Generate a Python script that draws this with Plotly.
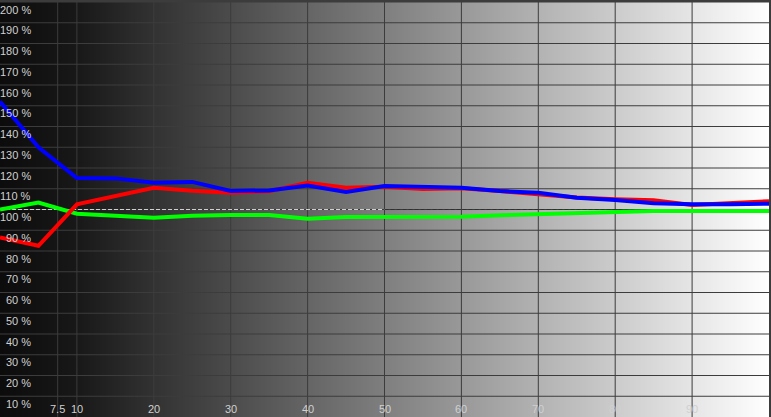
import numpy as np
import plotly.graph_objects as go

# RGB balance readings (%), grey level 0..100 in steps of 5
levels = [0, 5, 10, 15, 20, 25, 30, 35, 40, 45, 50, 55, 60, 65, 70, 75, 80, 85, 90, 95, 100]
red = [86.5, 82.5, 102.5, 106.5, 110.5, 109.0, 108.1, 108.8, 112.9, 110.5, 111.0,
       109.9, 110.2, 108.9, 107.5, 105.8, 105.0, 104.4, 102.2, 103.0, 104.0]
green = [100.0, 103.3, 98.0, 96.8, 96.0, 97.0, 97.4, 97.3, 95.6, 96.4, 96.5,
         96.5, 96.5, 97.2, 97.7, 98.0, 98.5, 99.3, 99.3, 99.3, 99.3]
blue = [152.0, 130.0, 115.2, 115.0, 112.9, 113.3, 108.9, 109.2, 111.6, 108.5, 111.3,
        110.9, 110.5, 108.9, 108.1, 105.7, 104.6, 103.0, 102.5, 102.5, 102.8]

x_ticks = [7.5, 10, 20, 30, 40, 50, 60, 70, 80, 90]
x_tick_text = ["7.5", "10", "20", "30", "40", "50", "60", "70", "80", "90"]
y_ticks = list(range(10, 201, 10))
y_tick_text = [f"{v} %" for v in y_ticks]
REF = 100

W, H = 771, 417
GRID = "#3c3c3c"
LABEL = "#d0d0d0"
X_MAX, Y_MAX = 100, 200

traces = []

# grey ramp behind everything (one pixel-ish column per step)
n_cols = 386
dx = X_MAX / n_cols
centers = dx / 2 + dx * np.arange(n_cols)
traces.append(go.Heatmap(
    z=[centers], x0=dx / 2, dx=dx, y0=Y_MAX / 2, dy=Y_MAX,
    zmin=0, zmax=X_MAX, zsmooth=False, showscale=False, hoverinfo="skip",
    colorscale=[[0, "rgb(12,12,12)"], [0.1, "rgb(24,24,24)"], [1, "rgb(255,255,255)"]],
))

# grid drawn as a trace so it sits above the ramp but under the curves
gx, gy = [], []
for v in x_ticks:
    gx += [v, v, None]
    gy += [0, Y_MAX, None]
for v in y_ticks:
    gx += [0, X_MAX, None]
    gy += [v, v, None]
traces.append(go.Scatter(x=gx, y=gy, mode="lines", line=dict(color=GRID, width=1),
                         hoverinfo="skip", showlegend=False))

# 100 % reference, light on the dark half, dark on the light half
traces.append(go.Scatter(x=[0, 50], y=[REF, REF], mode="lines",
                         line=dict(color="#d0d0d0", width=1, dash="4px,2px"),
                         hoverinfo="skip", showlegend=False))
traces.append(go.Scatter(x=[50, 100], y=[REF, REF], mode="lines",
                         line=dict(color="#303030", width=1, dash="4px,2px"),
                         hoverinfo="skip", showlegend=False))

for vals, col in [(green, "#00ff00"), (red, "#ff0000"), (blue, "#0000ff")]:
    traces.append(go.Scatter(x=levels, y=vals, mode="lines",
                             line=dict(color=col, width=4),
                             showlegend=False))

fig = go.Figure(data=traces)

annotations = []
for v, t in zip(y_ticks, y_tick_text):
    annotations.append(dict(
        x=33 / W, xref="paper", xanchor="right",
        y=v, yref="y", yanchor="middle", yshift=-7.5,
        text=t, showarrow=False, font=dict(color=LABEL, size=11),
    ))
for v, t in zip(x_ticks, x_tick_text):
    annotations.append(dict(
        x=v, xref="x", xanchor="center",
        y=8 / H, yref="paper", yanchor="middle",
        text=t, showarrow=False, font=dict(color=LABEL, size=11),
    ))

fig.update_layout(
    width=W, height=H,
    margin=dict(l=0, r=0, t=0, b=0),
    paper_bgcolor="#0c0c0c",
    plot_bgcolor="#0c0c0c",
    font=dict(family="Liberation Sans, Arial, sans-serif", size=11, color=LABEL),
    annotations=annotations,
    xaxis=dict(range=[0, X_MAX], showticklabels=False, ticks="", showgrid=False,
               zeroline=False, showline=True, mirror=True, linecolor=GRID, linewidth=2),
    yaxis=dict(range=[0, Y_MAX], showticklabels=False, ticks="", showgrid=False,
               zeroline=False, showline=True, mirror=True, linecolor=GRID, linewidth=2),
)

fig.write_html("out.html", config=dict(displayModeBar=False),
               post_script="document.body.style.margin='0';document.body.style.overflow='hidden';")
